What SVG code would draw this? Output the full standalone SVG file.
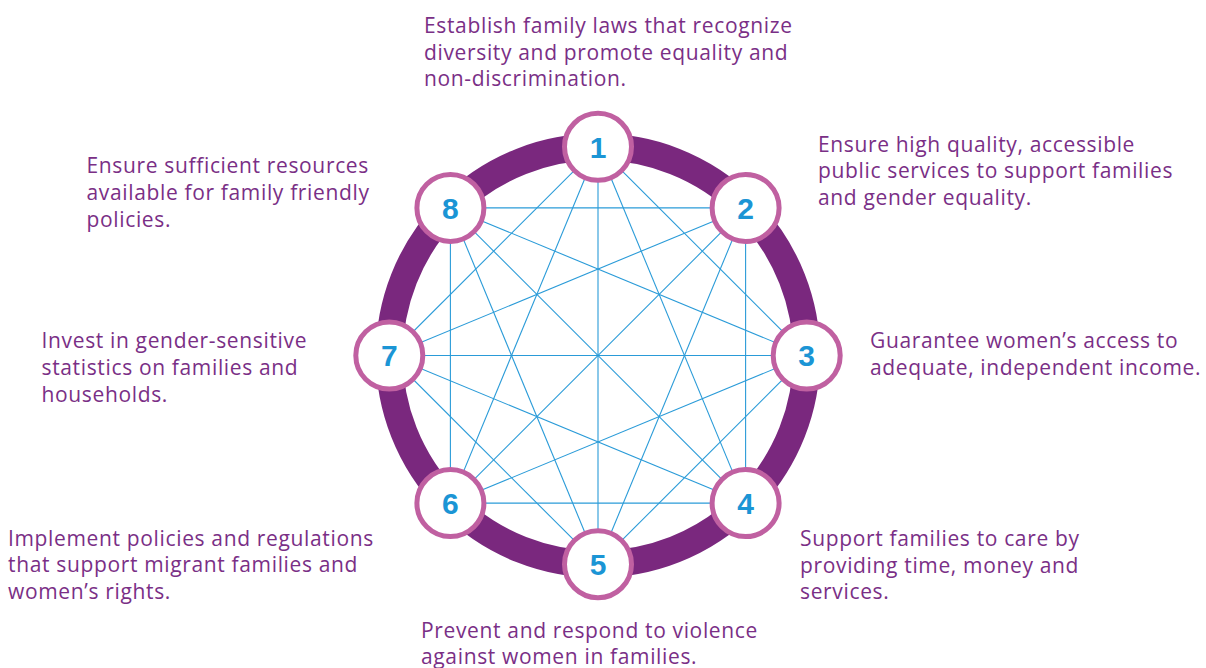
<svg xmlns="http://www.w3.org/2000/svg" width="1206" height="668" viewBox="0 0 1206 668">
<style>
.ring{fill:none;stroke:#7a287e;stroke-width:27}
.edge{stroke:#2a9bd8;stroke-width:1.1;fill:none}
.node circle{fill:#fff;stroke:#c060a1;stroke-width:5}
.num{font-family:"Liberation Sans",Arial,sans-serif;font-weight:bold;font-size:30px;fill:#1b95d5;text-anchor:middle}
.lbl{font-family:"Open Sans",Lato,sans-serif;font-weight:400;font-size:21px;letter-spacing:0.65px;fill:#7a2f86}
</style>
<rect width="1206" height="668" fill="#fff"/>
<circle class="ring" cx="598" cy="355.5" r="208.7"/>
<g id="connectors">
<line class="edge" x1="598" y1="146.8" x2="806.7" y2="355.5"/>
<line class="edge" x1="598" y1="146.8" x2="745.6" y2="503.1"/>
<line class="edge" x1="598" y1="146.8" x2="598" y2="564.2"/>
<line class="edge" x1="598" y1="146.8" x2="450.4" y2="503.1"/>
<line class="edge" x1="598" y1="146.8" x2="389.3" y2="355.5"/>
<line class="edge" x1="745.6" y1="207.9" x2="745.6" y2="503.1"/>
<line class="edge" x1="745.6" y1="207.9" x2="598" y2="564.2"/>
<line class="edge" x1="745.6" y1="207.9" x2="450.4" y2="503.1"/>
<line class="edge" x1="745.6" y1="207.9" x2="389.3" y2="355.5"/>
<line class="edge" x1="745.6" y1="207.9" x2="450.4" y2="207.9"/>
<line class="edge" x1="806.7" y1="355.5" x2="598" y2="564.2"/>
<line class="edge" x1="806.7" y1="355.5" x2="450.4" y2="503.1"/>
<line class="edge" x1="806.7" y1="355.5" x2="389.3" y2="355.5"/>
<line class="edge" x1="806.7" y1="355.5" x2="450.4" y2="207.9"/>
<line class="edge" x1="745.6" y1="503.1" x2="450.4" y2="503.1"/>
<line class="edge" x1="745.6" y1="503.1" x2="389.3" y2="355.5"/>
<line class="edge" x1="745.6" y1="503.1" x2="450.4" y2="207.9"/>
<line class="edge" x1="598" y1="564.2" x2="389.3" y2="355.5"/>
<line class="edge" x1="598" y1="564.2" x2="450.4" y2="207.9"/>
<line class="edge" x1="450.4" y1="503.1" x2="450.4" y2="207.9"/>
</g>
<g id="node1" class="node"><circle cx="598" cy="146.8" r="33.5"/><text class="num" x="598" y="157.5">1</text>
<text class="lbl" x="424" y="32.7">Establish family laws that recognize</text><text class="lbl" x="424" y="59.5">diversity and promote equality and</text><text class="lbl" x="424" y="86.3">non-discrimination.</text></g>
<g id="node2" class="node"><circle cx="745.6" cy="207.9" r="33.5"/><text class="num" x="745.6" y="218.6">2</text>
<text class="lbl" x="818" y="151.7">Ensure high quality, accessible</text><text class="lbl" x="818" y="178.4">public services to support families</text><text class="lbl" x="818" y="205.1">and gender equality.</text></g>
<g id="node3" class="node"><circle cx="806.7" cy="355.5" r="33.5"/><text class="num" x="806.7" y="366.2">3</text>
<text class="lbl" x="870" y="347.7">Guarantee women’s access to</text><text class="lbl" x="870" y="374.7">adequate, independent income.</text></g>
<g id="node4" class="node"><circle cx="745.6" cy="503.1" r="33.5"/><text class="num" x="745.6" y="513.8">4</text>
<text class="lbl" x="800" y="545.7">Support families to care by</text><text class="lbl" x="800" y="572.5">providing time, money and</text><text class="lbl" x="800" y="599.2">services.</text></g>
<g id="node5" class="node"><circle cx="598" cy="564.2" r="33.5"/><text class="num" x="598" y="574.9">5</text>
<text class="lbl" x="421" y="637.7">Prevent and respond to violence</text><text class="lbl" x="421" y="664.4">against women in families.</text></g>
<g id="node6" class="node"><circle cx="450.4" cy="503.1" r="33.5"/><text class="num" x="450.4" y="513.8">6</text>
<text class="lbl" x="8" y="545.7">Implement policies and regulations</text><text class="lbl" x="8" y="572.4">that support migrant families and</text><text class="lbl" x="8" y="599.1">women’s rights.</text></g>
<g id="node7" class="node"><circle cx="389.3" cy="355.5" r="33.5"/><text class="num" x="389.3" y="366.2">7</text>
<text class="lbl" x="41.5" y="348">Invest in gender-sensitive</text><text class="lbl" x="41.5" y="374.8">statistics on families and</text><text class="lbl" x="41.5" y="401.6">households.</text></g>
<g id="node8" class="node"><circle cx="450.4" cy="207.9" r="33.5"/><text class="num" x="450.4" y="218.6">8</text>
<text class="lbl" x="86.5" y="172.7">Ensure sufficient resources</text><text class="lbl" x="86.5" y="199.9">available for family friendly</text><text class="lbl" x="86.5" y="227.1">policies.</text></g>
</svg>
